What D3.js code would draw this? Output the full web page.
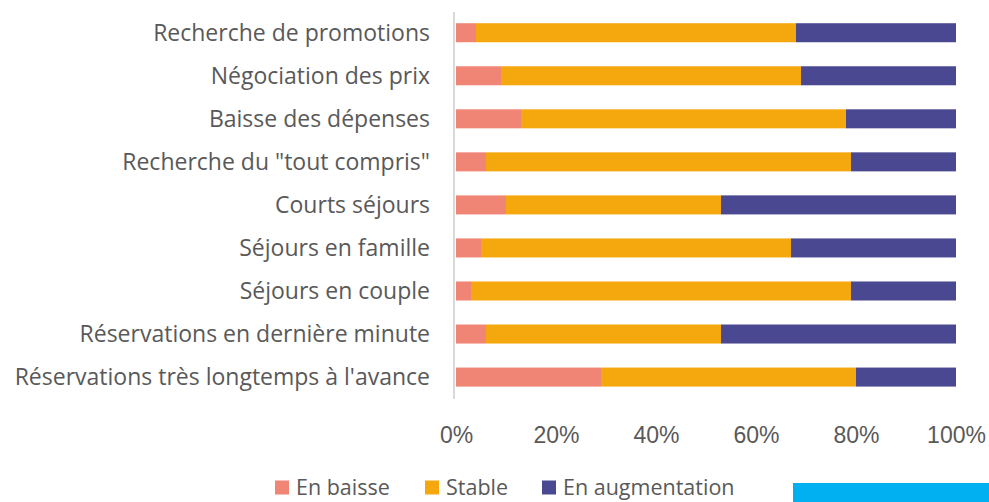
<!DOCTYPE html>
<html>
<head>
<meta charset="utf-8">
<title>stacked bars</title>
<script src="https://d3js.org/d3.v7.min.js"></script>
<style>
  body { margin: 0; background: #fff; }
  svg { font-family: "Open Sans", "Liberation Sans", Arial, sans-serif; }
  .lbl { fill: #595959; font-size: 23px; }
  .leg { fill: #595959; font-size: 21.5px; }
</style>
</head>
<body>
<svg id="chart" width="989" height="502"></svg>
<script>
const categories = [
  "Recherche de promotions",
  "Négociation des prix",
  "Baisse des dépenses",
  "Recherche du \"tout compris\"",
  "Courts séjours",
  "Séjours en famille",
  "Séjours en couple",
  "Réservations en dernière minute",
  "Réservations très longtemps à l'avance"
];
const enBaisse       = [4, 9, 13, 6, 10, 5, 3, 6, 29];
const stable         = [64, 60, 65, 73, 43, 62, 76, 47, 51];
const enAugmentation = [32, 31, 22, 21, 47, 33, 21, 47, 20];

const seriesNames = ["En baisse", "Stable", "En augmentation"];
const colors = ["#f08575", "#f5a80e", "#4a4891"];
const tickValues = [0, 0.2, 0.4, 0.6, 0.8, 1];

const svg = d3.select("#chart");

// table for d3.stack
const rows = categories.map((c, i) => ({
  cat: c,
  "En baisse": enBaisse[i],
  "Stable": stable[i],
  "En augmentation": enAugmentation[i]
}));

const stackGen = d3.stack().keys(seriesNames).offset(d3.stackOffsetExpand);
const stacked = stackGen(rows);

const x = d3.scaleLinear().domain([0, 1]).range([456, 956]);
const y = d3.scaleBand().domain(categories).range([-0.8, 410.6]).padding(0.558);
const color = d3.scaleOrdinal().domain(seriesNames).range(colors);

// vertical axis line
svg.append("line")
  .attr("x1", 454).attr("x2", 454)
  .attr("y1", 12).attr("y2", 399)
  .attr("stroke", "#d9d9d9").attr("stroke-width", 2);

svg.append("g").selectAll("g")
  .data(stacked)
  .join("g")
    .attr("fill", d => color(d.key))
  .selectAll("rect")
  .data(d => d)
  .join("rect")
    .attr("x", d => x(d[0]))
    .attr("width", d => x(d[1]) - x(d[0]))
    .attr("y", d => y(d.data.cat))
    .attr("height", y.bandwidth());

// category labels
svg.append("g").selectAll("text")
  .data(categories)
  .join("text")
    .attr("class", "lbl")
    .attr("x", 430)
    .attr("y", d => y(d) + y.bandwidth() / 2)
    .attr("dy", "0.35em")
    .attr("text-anchor", "end")
    .text(d => d);

// x axis
const xAxis = d3.axisBottom(x).tickValues(tickValues).tickFormat(d3.format(".0%")).tickSize(0);
const gx = svg.append("g").attr("transform", "translate(0,434.5)").call(xAxis);
gx.select(".domain").remove();
gx.selectAll("text").attr("class", "lbl").attr("fill", null).attr("y", 0).attr("dy", "0.35em");

// legend
const legendX = [275, 425, 542];
const leg = svg.append("g").selectAll("g")
  .data(seriesNames)
  .join("g")
    .attr("transform", (d, i) => `translate(${legendX[i]},487.5)`);
leg.append("rect")
  .attr("x", 0).attr("y", -7)
  .attr("width", 14).attr("height", 14)
  .attr("fill", d => color(d));
leg.append("text")
  .attr("class", "leg")
  .attr("x", 21)
  .attr("dy", "0.35em")
  .text(d => d);

// blue block at bottom right
svg.append("rect")
  .attr("x", 793).attr("y", 483)
  .attr("width", 196).attr("height", 19)
  .attr("fill", "#00b0f0");
</script>
</body>
</html>
